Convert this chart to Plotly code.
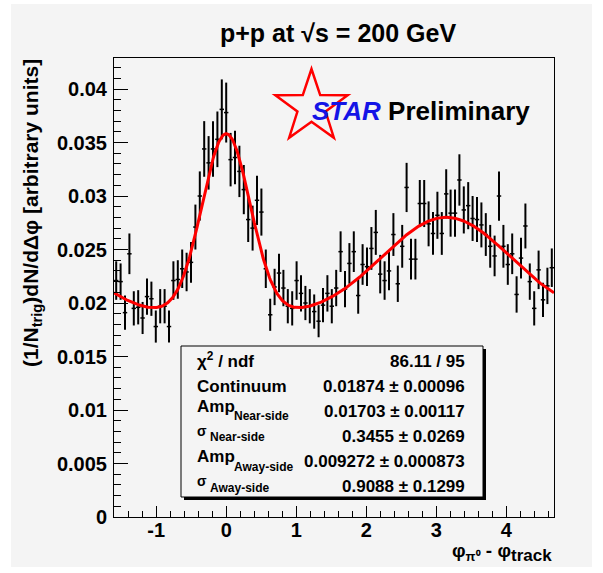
import math
import numpy as np
import plotly.graph_objects as go

# ---------------- data ----------------
N_BINS = 100
BIN_WIDTH = 2 * math.pi / N_BINS
dphi = [-math.pi / 2 + i * BIN_WIDTH for i in range(N_BINS)]  # bin centres

yield_vals = [
    0.0221, 0.0220, 0.0191, 0.0246, 0.0195, 0.0196, 0.0186, 0.0206, 0.0204, 0.0178,
    0.0197, 0.0197, 0.0178, 0.0221, 0.0222, 0.0232, 0.0229, 0.0238, 0.0271, 0.0300,
    0.0344, 0.0331, 0.0344, 0.0353, 0.0381, 0.0378, 0.0334, 0.0336, 0.0323, 0.0306,
    0.0278, 0.0270, 0.0296, 0.0285, 0.0232, 0.0189, 0.0215, 0.0228, 0.0214, 0.0197,
    0.0195, 0.0221, 0.0209, 0.0200, 0.0197, 0.0192, 0.0183, 0.0198, 0.0209, 0.0197,
    0.0214, 0.0248, 0.0213, 0.0237, 0.0248, 0.0207, 0.0236, 0.0234, 0.0251, 0.0266,
    0.0227, 0.0221, 0.0230, 0.0264, 0.0218, 0.0253, 0.0308, 0.0241, 0.0241, 0.0293,
    0.0293, 0.0274, 0.0265, 0.0282, 0.0265, 0.0302, 0.0284, 0.0284, 0.0315, 0.0287,
    0.0291, 0.0279, 0.0278, 0.0273, 0.0264, 0.0253, 0.0244, 0.0300, 0.0253, 0.0236,
    0.0246, 0.0208, 0.0242, 0.0272, 0.0220, 0.0195, 0.0231, 0.0203, 0.0216, 0.0233,
]

yield_errs = [
    0.0018, 0.0017, 0.0016, 0.0019, 0.0016, 0.0016, 0.0015, 0.0017, 0.0016, 0.0015,
    0.0016, 0.0016, 0.0015, 0.0018, 0.0018, 0.0018, 0.0018, 0.0019, 0.0021, 0.0023,
    0.0026, 0.0025, 0.0026, 0.0026, 0.0028, 0.0028, 0.0025, 0.0025, 0.0024, 0.0023,
    0.0021, 0.0021, 0.0023, 0.0022, 0.0018, 0.0015, 0.0017, 0.0018, 0.0017, 0.0016,
    0.0016, 0.0018, 0.0017, 0.0016, 0.0016, 0.0016, 0.0015, 0.0016, 0.0017, 0.0016,
    0.0017, 0.0019, 0.0017, 0.0019, 0.0019, 0.0017, 0.0019, 0.0018, 0.0020, 0.0021,
    0.0018, 0.0018, 0.0018, 0.0020, 0.0017, 0.0020, 0.0023, 0.0019, 0.0019, 0.0022,
    0.0022, 0.0021, 0.0020, 0.0022, 0.0020, 0.0023, 0.0022, 0.0022, 0.0024, 0.0022,
    0.0022, 0.0021, 0.0021, 0.0021, 0.0020, 0.0020, 0.0019, 0.0023, 0.0020, 0.0019,
    0.0019, 0.0017, 0.0019, 0.0021, 0.0017, 0.0016, 0.0018, 0.0016, 0.0017, 0.0018,
]

# fit parameters (from the stats box)
CONTINUUM = 0.01874
AMP_NEAR = 0.01703
SIGMA_NEAR = 0.3455
AMP_AWAY = 0.009272
SIGMA_AWAY = 0.9088

x_tick_vals = [-1, 0, 1, 2, 3, 4]
x_tick_text = ["-1", "0", "1", "2", "3", "4"]
y_tick_vals = [0, 0.005, 0.01, 0.015, 0.02, 0.025, 0.03, 0.035, 0.04]
y_tick_text = ["0", "0.005", "0.01", "0.015", "0.02", "0.025", "0.03", "0.035", "0.04"]

stats_labels = ["χ<sup>2</sup> / ndf", "Continuum", "Amp", "σ", "Amp", "σ"]
stats_subs = [None, None, "Near-side", "Near-side", "Away-side", "Away-side"]
stats_values = ["86.11 / 95", "0.01874 ± 0.00096", "0.01703 ± 0.00117",
                "0.3455 ± 0.0269", "0.009272 ± 0.000873", "0.9088 ± 0.1299"]

# ---------------- geometry helpers ----------------
W, H = 603, 573
L, R, T, B = 114, 554, 58, 517
XMIN = -math.pi / 2 - BIN_WIDTH / 2
XMAX = 3 * math.pi / 2 - BIN_WIDTH / 2
YMIN, YMAX = 0.0, 0.0429


def px(x):
    return (x - L) / (R - L)


def py(y):
    return (B - y) / (B - T)


FONT = "Liberation Sans, Arial, Helvetica, sans-serif"
BG = "#f4f4f4"

# fit curve
xc = np.linspace(XMIN, XMAX, 600)


def gauss(x, mu, s):
    return np.exp(-((x - mu) ** 2) / (2 * s * s))


yc = (CONTINUUM
      + AMP_NEAR * (gauss(xc, 0, SIGMA_NEAR) + gauss(xc, 2 * math.pi, SIGMA_NEAR))
      + AMP_AWAY * (gauss(xc, math.pi, SIGMA_AWAY) + gauss(xc, -math.pi, SIGMA_AWAY)))

fig = go.Figure()
fig.add_trace(go.Scatter(
    x=dphi, y=yield_vals, mode="markers",
    marker=dict(size=1, color="black"),
    error_y=dict(type="data", array=yield_errs, visible=True, thickness=2, width=0, color="black"),
    error_x=dict(type="constant", value=BIN_WIDTH / 2, visible=True, thickness=1.5, width=0, color="black"),
    showlegend=False, hoverinfo="x+y",
))
fig.add_trace(go.Scatter(
    x=xc, y=yc, mode="lines", line=dict(color="#ff0000", width=3),
    showlegend=False, hoverinfo="skip",
))

shapes = []
# canvas grey area
shapes.append(dict(type="rect", xref="paper", yref="paper", layer="below",
                   x0=px(11), x1=px(592), y0=py(567), y1=py(4),
                   fillcolor=BG, line=dict(width=0)))
# stats box shadow + box
shapes.append(dict(type="rect", xref="paper", yref="paper", layer="above",
                   x0=px(184), x1=px(486), y0=py(500), y1=py(349),
                   fillcolor="black", line=dict(width=0)))
shapes.append(dict(type="rect", xref="paper", yref="paper", layer="above",
                   x0=px(181), x1=px(483), y0=py(497), y1=py(346),
                   fillcolor=BG, line=dict(color="black", width=1)))
# STAR star outline
cx, cy, Ro, Ri = 311.5, 107.0, 38.0, 14.8
pts = []
for k in range(10):
    ang = math.radians(90 + 36 * k)
    rr = Ro if k % 2 == 0 else Ri
    pts.append((cx + rr * math.cos(ang), cy - rr * math.sin(ang)))
path = "M " + " L ".join(f"{px(a):.5f},{py(b):.5f}" for a, b in pts) + " Z"
shapes.append(dict(type="path", xref="paper", yref="paper", path=path,
                   line=dict(color="#ff0000", width=2.5), fillcolor="rgba(0,0,0,0)"))

ann = []


def text(x, y, s, size, anchor="left", color="black", angle=0):
    ann.append(dict(x=px(x), y=py(y), xref="paper", yref="paper", text=s,
                    showarrow=False, xanchor=anchor, yanchor="middle",
                    textangle=angle,
                    font=dict(family=FONT, size=size, color=color, weight="bold")))


# title
text(338, 33, "p+p at √s = 200 GeV", 25, anchor="center")
# STAR Preliminary
text(310, 111, "<span style='color:#1414e6'><i>STAR</i></span> Preliminary", 26)
# axis titles
text(32, 213, "(1/N<sub>trig</sub>)dN/dΔφ [arbitrary units]", 21, anchor="center", angle=-90)
text(554, 552, "φ<sub><span style='font-size:13px'>π⁰</span></sub> - "
               "φ<sub><span style='font-size:17px'>track</span></sub>", 19, anchor="right")

# stats box
label_y = [360, 386, 406, 431, 456, 481]
sub_y = [None, None, 416, 437, 467, 488]
sub_x = [None, None, 232, 208, 232, 208]
value_y = [361, 386, 411, 436, 461, 486]
for i in range(6):
    size = 14 if stats_labels[i] == "σ" else 17
    text(195, label_y[i], stats_labels[i], size)
    if stats_subs[i]:
        text(sub_x[i], sub_y[i], stats_subs[i], 12)
    text(467, value_y[i], stats_values[i], 17, anchor="right")

fig.update_layout(
    width=W, height=H,
    margin=dict(l=L, r=W - R, t=T, b=H - B, pad=0),
    paper_bgcolor="white", plot_bgcolor=BG,
    shapes=shapes, annotations=ann,
    font=dict(family=FONT, color="black"),
    hovermode=False,
)
fig.update_xaxes(
    range=[XMIN, XMAX], showgrid=False, zeroline=False,
    showline=True, linecolor="black", linewidth=1, mirror=True,
    tickmode="array", tickvals=x_tick_vals, ticktext=x_tick_text,
    ticks="inside", ticklen=11, tickwidth=1, tickcolor="black",
    tickfont=dict(family=FONT, size=20, color="black", weight="bold"),
    ticklabelstandoff=-5,
    minor=dict(dtick=0.2, tick0=0, ticks="inside", ticklen=6, tickwidth=1, tickcolor="black", showgrid=False),
)
fig.update_yaxes(
    range=[YMIN, YMAX], showgrid=False, zeroline=False,
    showline=True, linecolor="black", linewidth=1, mirror=True,
    tickmode="array", tickvals=y_tick_vals, ticktext=y_tick_text,
    ticks="inside", ticklen=14, tickwidth=1, tickcolor="black",
    tickfont=dict(family=FONT, size=20, color="black", weight="bold"),
    ticklabelstandoff=2,
    minor=dict(dtick=0.001, tick0=0, ticks="inside", ticklen=7, tickwidth=1, tickcolor="black", showgrid=False),
)

fig.write_html("out.html", config={"displayModeBar": False, "staticPlot": True},
               post_script="document.body.style.margin='0';")
